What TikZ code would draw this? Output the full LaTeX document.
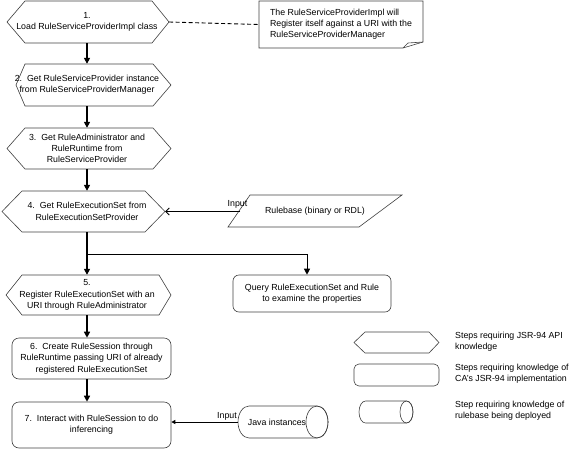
\documentclass[tikz,border=0pt]{standalone}
\usepackage{fontspec}
\setmainfont{Liberation Sans}
\usetikzlibrary{arrows.meta}
\newcommand\hexnode[9]{% name, cx, xL, xl, xr, xR, yT, yB, text
  \node[txt, minimum width={2*(#6-#2)*1pt}, minimum height={(#8-#7)*1pt}] (#1) at (#2,{(#7+#8)/2}) {#9};
  \draw[shp] (#3,{(#7+#8)/2}) -- (#4,#7) -- (#5,#7) -- (#6,{(#7+#8)/2}) -- (#5,#8) -- (#4,#8) -- cycle;}
\begin{document}
\begin{tikzpicture}[x=1pt,y=-1pt,
  txt/.style={inner sep=0pt, align=center, font=\fontsize{8.8}{11.3}\selectfont},
  shp/.style={draw=black!75, line width=0.6pt},
  rbox/.style={txt, shp, rounded corners=7pt},
  arr/.style={line width=1.5pt, -{Triangle[length=6pt,width=6pt]}},
  brl/.style={line width=1pt, -{Triangle[length=6pt,width=6pt]}},
  inarrA/.style={line width=0.9pt, -{Straight Barb[length=3.5pt,width=7pt]}},
  inarrB/.style={line width=0.9pt, -{Triangle[length=4pt,width=4pt]}},
  lab/.style={inner sep=0pt, font=\fontsize{8.8}{11.3}\selectfont},
  legtxt/.style={inner sep=0pt, anchor=west, align=left, font=\fontsize{8.8}{11}\selectfont}]
\useasboundingbox (0,0) rectangle (576,450);

% main column
\hexnode{h1}{87}{7}{25}{152}{169}{1}{43}{1.\\Load RuleServiceProviderImpl class}
\hexnode{h2}{87}{16}{25}{153}{171}{64}{106}{2.\ \ Get RuleServiceProvider instance\\from RuleServiceProviderManager}
\hexnode{h3}{87}{7}{25}{153}{171}{128}{169}{3.\ \ Get RuleAdministrator and\\RuleRuntime from\\RuleServiceProvider}
\hexnode{h4}{87}{2}{22}{145}{165}{191}{232}{4.\ \ Get RuleExecutionSet from\\RuleExecutionSetProvider}
\hexnode{h5}{87}{6}{22}{159}{171}{275}{315}{5.\\Register RuleExecutionSet with an\\URI through RuleAdministrator}
\node[rbox, minimum width=159pt, minimum height=41pt] (b6) at (91.5,358.5) {6.\ \ Create RuleSession through\\RuleRuntime passing URI of already\\registered RuleExecutionSet};
\node[rbox, minimum width=159pt, minimum height=46pt] (b7) at (91.5,425) {7.\ \ Interact with RuleSession to do\\inferencing};

% note
\node[txt, align=left, minimum width=164pt, minimum height=47pt, font=\fontsize{8.8}{11}\selectfont] (note) at (341,24.5)
  {The RuleServiceProviderImpl will\\Register itself against a URI with the\\RuleServiceProviderManager};
\draw[shp] (259,1) -- (423,1) -- (423,42) -- (403,48) -- (259,48) -- cycle;
\draw[shp] (403,48) -- (408,43) -- (423,42);

% rulebase
\node[txt] (rb) at (315,211) {Rulebase (binary or RDL)};
\draw[shp] (228,227) -- (250,195) -- (402,195) -- (359,227) -- cycle;
\coordinate (rbin) at (240,211.5);
\node[lab] (in1) at (237.5,204) {Input};

% query
\node[rbox, rounded corners=6pt, minimum width=158pt, minimum height=37pt] (q) at (312,293.5) {Query RuleExecutionSet and Rule\\to examine the properties};

% java cylinder
\node[txt, minimum width=78pt, minimum height=32pt] (jv) at (277,422) {Java instances};
\draw[shp] (249,406) -- (317,406) arc[start angle=90, end angle=-90, x radius=11, y radius=-16] -- (249,438) arc[start angle=270, end angle=90, x radius=11, y radius=-16] -- cycle;
\draw[shp] (317,422) ellipse[x radius=11, y radius=16];
\node[lab] (in2) at (227,416.5) {Input};

% connectors
\draw[arr] (h1.south) -- (h2.north);
\draw[arr] (h2.south) -- (h3.north);
\draw[arr] (h3.south) -- (h4.north);
\draw[arr] (h4.south) -- (h5.north);
\draw[arr] (h5.south) -- (h5.south |- b6.north);
\draw[arr] (h5.south |- b6.south) -- (h5.south |- b7.north);
\coordinate (br) at (87,254);
\draw[brl] (br) -| ([xshift=-5pt]q.north);
\draw[line width=0.9pt, dash pattern=on 4pt off 2.5pt] (h1.east) -- (note.west);
\draw[inarrA] (rbin) -- (h4.east);
\draw[inarrB] (jv.west) -- (jv.west -| b7.east);

% legend
\hexnode{lg1}{396.5}{354}{365}{429}{439}{332}{353}{}
\node[legtxt] (lt1) at (455,341.5) {Steps requiring JSR-94 API\\knowledge};
\node[rbox, rounded corners=5pt, minimum width=85pt, minimum height=22pt] (lg2) at (396.5,375) {};
\node[legtxt] (lt2) at (455,373.5) {Steps requiring knowledge of\\CA's JSR-94 implementation};
\node[txt, minimum width=54pt, minimum height=22pt] (lg3) at (386,412) {};
\draw[shp] (365.5,401) -- (406.5,401) arc[start angle=90, end angle=-90, x radius=6.5, y radius=-11] -- (365.5,423) arc[start angle=270, end angle=90, x radius=6.5, y radius=-11] -- cycle;
\draw[shp] (406.5,412) ellipse[x radius=6.5, y radius=11];
\node[legtxt] (lt3) at (455,410.5) {Step requiring knowledge of\\rulebase being deployed};
\end{tikzpicture}
\end{document}
